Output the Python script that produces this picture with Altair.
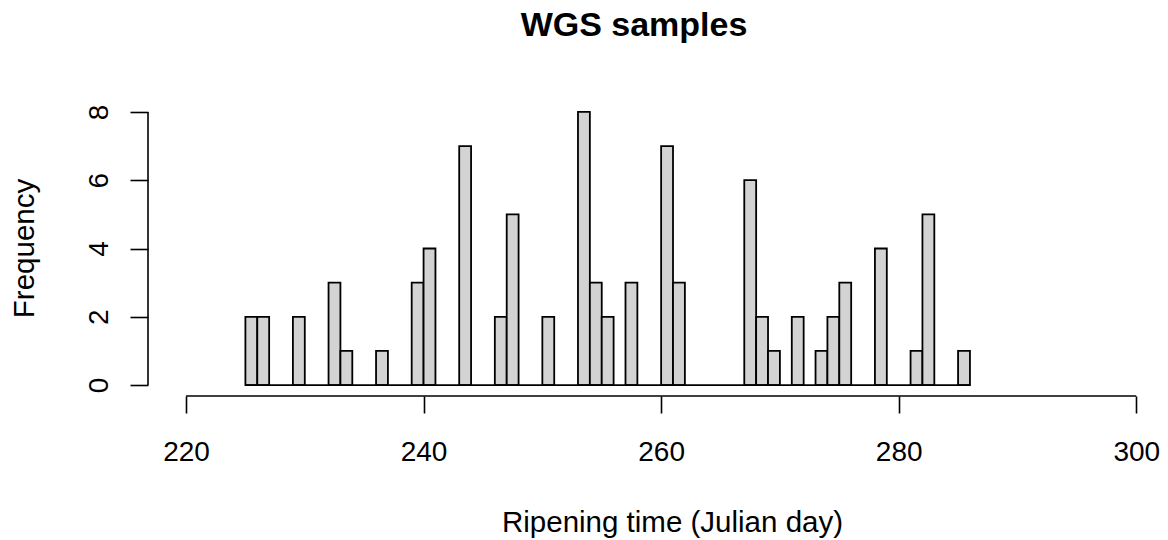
import altair as alt
import pandas as pd

# Histogram bins (left edges, width 1 day) and counts
bin_start = [225, 226, 229, 232, 233, 236, 239, 240, 243, 246, 247, 250, 253, 254,
             255, 257, 260, 261, 267, 268, 269, 271, 273, 274, 275, 278, 281, 282, 285]
counts = [2, 2, 2, 3, 1, 1, 3, 4, 7, 2, 5, 2, 8, 3,
          2, 3, 7, 3, 6, 2, 1, 2, 1, 2, 3, 4, 1, 5, 1]
bin_width = 1
x_ticks = [220, 240, 260, 280, 300]
y_ticks = [0, 2, 4, 6, 8]

df = pd.DataFrame({"start": bin_start, "count": counts})
df["end"] = df["start"] + bin_width

base_df = pd.DataFrame({"x": [min(bin_start)], "x2": [max(bin_start) + bin_width], "y": [0]})
xaxis_df = pd.DataFrame({"x": [min(x_ticks)], "x2": [max(x_ticks)]})
yaxis_df = pd.DataFrame({"y": [min(y_ticks)], "y2": [max(y_ticks)]})

FONT = "Liberation Sans"
W, H = 1012, 295

xscale = alt.Scale(domain=[216.8, 302], nice=False, zero=False)
yscale = alt.Scale(domain=[-0.32, 8.32], nice=False, zero=False)

bars = alt.Chart(df).mark_rect(fill="#D3D3D3", stroke="black", strokeWidth=1.8).encode(
    x=alt.X("start:Q", scale=xscale,
            axis=alt.Axis(values=x_ticks, domain=False, grid=False, tickSize=17,
                          tickWidth=1.6, tickColor="black", labelFontSize=28,
                          labelFont=FONT, labelColor="black", labelPadding=25,
                          labelFlush=False, labelOverlap=False,
                          title="Ripening time (Julian day)", titleFont=FONT,
                          titleFontSize=29.5, titleFontWeight="normal", titleColor="black",
                          titleX=524, titleY=135, titleBaseline="alphabetic",
                          titleAlign="center")),
    x2="end:Q",
    y=alt.Y("count:Q", scale=yscale,
            axis=alt.Axis(values=y_ticks, domain=False, grid=False, tickSize=18,
                          tickWidth=1.6, tickColor="black", labelFontSize=28,
                          labelFont=FONT, labelColor="black", labelAngle=270,
                          labelAlign="center", labelBaseline="alphabetic",
                          labelPadding=23, labelFlush=False, labelOverlap=False,
                          title="Frequency", titleFont=FONT, titleFontSize=29.5,
                          titleFontWeight="normal", titleColor="black",
                          titleAngle=270, titleX=-115, titleY=147,
                          titleBaseline="alphabetic", titleAlign="center")),
    y2=alt.Y2(datum=0),
)

baseline = alt.Chart(base_df).mark_rule(color="black", strokeWidth=1.8).encode(
    x="x:Q", x2="x2:Q", y="y:Q"
)

xaxis_line = alt.Chart(xaxis_df).mark_rule(color="black", strokeWidth=1.6).encode(
    x="x:Q", x2="x2:Q", y=alt.value(H)
)

yaxis_line = alt.Chart(yaxis_df).mark_rule(color="black", strokeWidth=1.6).encode(
    y="y:Q", y2="y2:Q", x=alt.value(0)
)

chart = alt.layer(bars, baseline, xaxis_line, yaxis_line).properties(
    width=W,
    height=H,
    title=alt.TitleParams("WGS samples", font=FONT, fontSize=34, fontWeight="bold",
                          color="black", anchor="middle", dx=-20, offset=31,
                          baseline="alphabetic"),
    autosize=alt.AutoSizeParams(type="none"),
    padding={"left": 148, "top": 101, "right": 8, "bottom": 144},
    background="white",
).configure_view(stroke=None)

chart.save("out.html", embed_options={"renderer": "svg", "actions": False})
